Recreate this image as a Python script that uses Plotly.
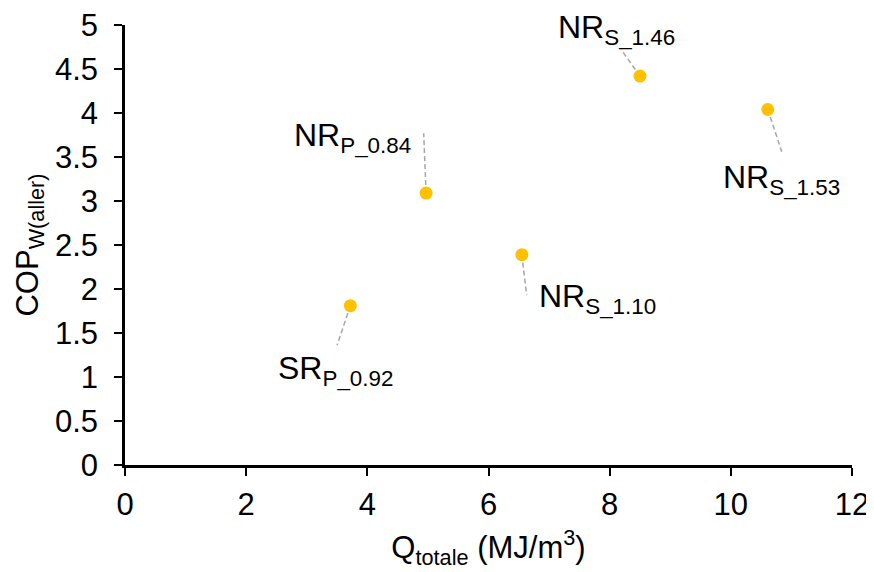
import plotly.graph_objects as go

# data
q_totale = [3.72, 4.97, 6.55, 8.50, 10.61]
cop_w = [1.81, 3.09, 2.39, 4.42, 4.04]
labels = ["SR<sub>P_0.92</sub>", "NR<sub>P_0.84</sub>", "NR<sub>S_1.10</sub>",
          "NR<sub>S_1.46</sub>", "NR<sub>S_1.53</sub>"]

# label placement (data coords) and leader line ends
label_pos = [(3.47, 1.07, "center"), (4.76, 3.72, "right"), (6.80, 1.89, "left"),
             (8.11, 4.95, "center"), (10.84, 3.24, "center")]
leader_end = [(3.50, 1.36), (4.93, 3.77), (6.63, 1.93), (8.19, 4.72), (10.84, 3.56)]

font = "Liberation Sans, Arial, sans-serif"

fig = go.Figure()

# dashed leader lines
for (x0, y0), (x1, y1) in zip(zip(q_totale, cop_w), leader_end):
    fig.add_trace(go.Scatter(x=[x0, x1], y=[y0, y1], mode="lines",
                             line=dict(color="#a6a6a6", width=1.5, dash="5px,3px"),
                             hoverinfo="skip", showlegend=False))

fig.add_trace(go.Scatter(x=q_totale, y=cop_w, mode="markers",
                         marker=dict(color="#ffc000", size=13),
                         showlegend=False))

for txt, (lx, ly, anc) in zip(labels, label_pos):
    fig.add_annotation(x=lx, y=ly, text=txt, showarrow=False,
                       xanchor=anc, yanchor="middle",
                       font=dict(family=font, size=32, color="black"))

axis_style = dict(showline=True, linecolor="black", linewidth=2.5,
                  ticks="outside", ticklen=8, tickwidth=2, tickcolor="black",
                  showgrid=False, zeroline=False, automargin=False,
                  ticklabeloverflow="allow",
                  tickfont=dict(family=font, size=31, color="black"))

fig.update_xaxes(range=[0, 12], dtick=2, ticklabelstandoff=2, **axis_style,
                 title=dict(text="Q<sub>totale</sub> (MJ/m<sup>3</sup>)",
                            font=dict(family=font, size=31, color="black"),
                            standoff=16))
fig.update_yaxes(range=[0, 5], dtick=0.5, ticklabelstandoff=10, **axis_style,
                 title=dict(text="COP<sub>W(aller)</sub>",
                            font=dict(family=font, size=31, color="black"),
                            standoff=8))

# page body has an 8px margin, so the figure is a bit smaller than the window
fig.update_layout(width=866, height=564,
                  margin=dict(l=117, r=22, t=17, b=107),
                  plot_bgcolor="white", paper_bgcolor="white")

fig.write_html("out.html")
